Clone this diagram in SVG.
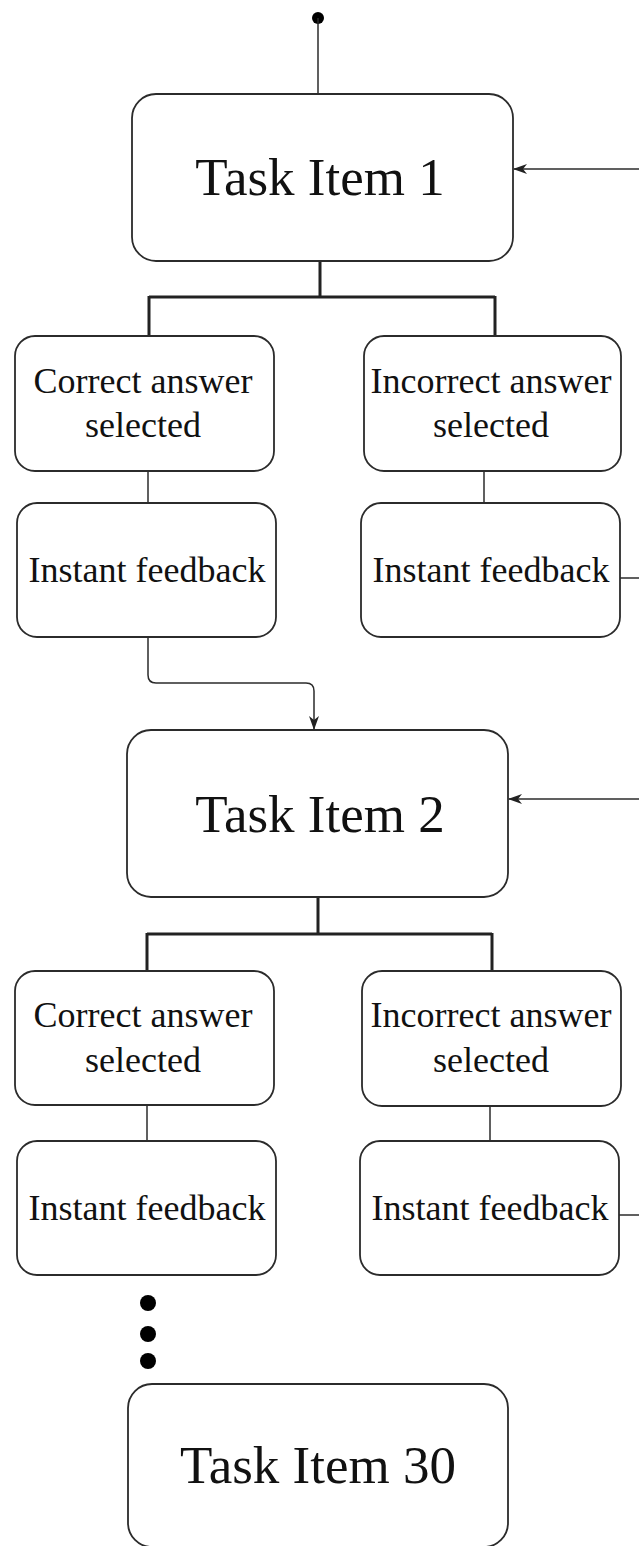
<svg xmlns="http://www.w3.org/2000/svg" width="639" height="1546" viewBox="0 0 639 1546">
<style>
.box{fill:#fff;stroke:#2b2b2b;stroke-width:1.8}
.big{font-family:"Liberation Serif","Times New Roman",serif;font-size:53px;fill:#111;text-anchor:middle}
.sm{font-family:"Liberation Serif","Times New Roman",serif;font-size:36px;fill:#111;text-anchor:middle}
.ln{fill:none;stroke:#2b2b2b;stroke-width:1.5}
.br{fill:none;stroke:#222;stroke-width:3}
.dot{fill:#000}
</style>
<defs>
<marker id="arr" viewBox="0 0 14 10" refX="13" refY="5" markerWidth="14" markerHeight="10" markerUnits="userSpaceOnUse" orient="auto">
<path d="M0,0 L14,5 L0,10 L4,5 z" fill="#222"/>
</marker>
</defs>
<g id="connectors">
<circle class="dot" cx="318" cy="18" r="6"/>
<line class="ln" x1="318" y1="18" x2="318" y2="94"/>
<line class="ln" x1="639" y1="169" x2="514" y2="169" marker-end="url(#arr)"/>
<path class="br" d="M320,261 V297 M149,297 H495 M149,296 V336 M495,296 V336"/>
<line class="ln" x1="148" y1="471" x2="148" y2="503"/>
<line class="ln" x1="484" y1="471" x2="484" y2="503"/>
<line class="ln" x1="620" y1="578" x2="639" y2="578"/>
<path class="ln" d="M148,637 V675 Q148,683 156,683 H306 Q314,683 314,691 V729" marker-end="url(#arr)"/>
<line class="ln" x1="639" y1="799" x2="509" y2="799" marker-end="url(#arr)"/>
<path class="br" d="M318,897 V934 M147,934 H492 M147,933 V971 M492,933 V971"/>
<line class="ln" x1="147" y1="1105" x2="147" y2="1141"/>
<line class="ln" x1="490" y1="1106" x2="490" y2="1141"/>
<line class="ln" x1="619" y1="1215" x2="639" y2="1215"/>
<circle class="dot" cx="148" cy="1303" r="8"/>
<circle class="dot" cx="148" cy="1334" r="8"/>
<circle class="dot" cx="148" cy="1361" r="8"/>
</g>
<g id="task1">
<rect class="box" x="132" y="94" width="381" height="167" rx="24"/>
<text class="big" x="320" y="195">Task Item 1</text>
</g>
<g id="correct1">
<rect class="box" x="15" y="336" width="259" height="135" rx="20"/>
<text class="sm" x="143" y="393">Correct answer</text>
<text class="sm" x="143" y="437">selected</text>
</g>
<g id="incorrect1">
<rect class="box" x="364" y="336" width="257" height="135" rx="20"/>
<text class="sm" x="491" y="393">Incorrect answer</text>
<text class="sm" x="491" y="437">selected</text>
</g>
<g id="feedback1a">
<rect class="box" x="17" y="503" width="259" height="134" rx="20"/>
<text class="sm" x="147" y="582">Instant feedback</text>
</g>
<g id="feedback1b">
<rect class="box" x="361" y="503" width="259" height="134" rx="20"/>
<text class="sm" x="491" y="582">Instant feedback</text>
</g>
<g id="task2">
<rect class="box" x="127" y="730" width="381" height="167" rx="24"/>
<text class="big" x="320" y="832">Task Item 2</text>
</g>
<g id="correct2">
<rect class="box" x="15" y="971" width="259" height="134" rx="20"/>
<text class="sm" x="143" y="1027">Correct answer</text>
<text class="sm" x="143" y="1072">selected</text>
</g>
<g id="incorrect2">
<rect class="box" x="362" y="971" width="259" height="135" rx="20"/>
<text class="sm" x="491" y="1027">Incorrect answer</text>
<text class="sm" x="491" y="1072">selected</text>
</g>
<g id="feedback2a">
<rect class="box" x="17" y="1141" width="259" height="134" rx="20"/>
<text class="sm" x="147" y="1220">Instant feedback</text>
</g>
<g id="feedback2b">
<rect class="box" x="360" y="1141" width="259" height="134" rx="20"/>
<text class="sm" x="490" y="1220">Instant feedback</text>
</g>
<g id="task30">
<rect class="box" x="128" y="1384" width="380" height="163" rx="24"/>
<text class="big" x="318" y="1483">Task Item 30</text>
</g>
</svg>
